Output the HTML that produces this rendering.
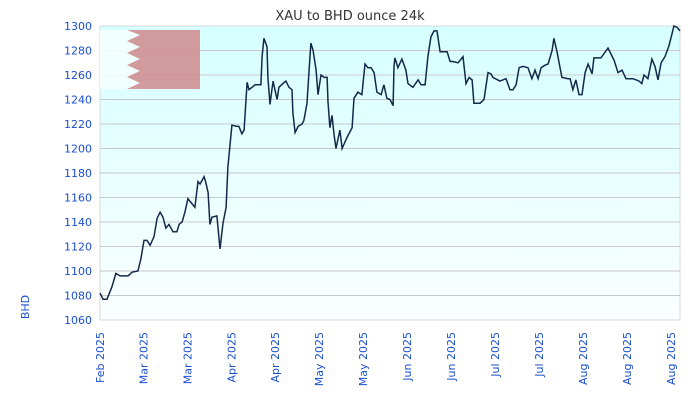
<!DOCTYPE html>
<html><head><meta charset="utf-8"><style>
body{margin:0;background:#fff;width:700px;height:400px;overflow:hidden}
svg{display:block;font-family:"DejaVu Sans","Liberation Sans",sans-serif}
</style></head><body>
<svg id="chart" width="700" height="400">
<defs><linearGradient id="bg" x1="0" y1="0" x2="0" y2="1"><stop offset="0" stop-color="#d6ffff"/><stop offset="1" stop-color="#fbffff"/></linearGradient></defs>
<text x="350" y="20" text-anchor="middle" font-size="13" fill="#333">XAU to BHD ounce 24k</text>
<rect x="100" y="26" width="580" height="294" fill="url(#bg)" stroke="#d8d8d8"/>
<g id="grid"></g>
<g opacity="0.85">
<rect x="100" y="30" width="100" height="59" fill="#f6ffff"/>
<polygon points="127,30 200,30 200,89 127,89 140,83 127,77 140,71 127,65 140,59 127,53 140,47 127,41 140,35" fill="#d08a8c"/>
</g>
<g id="yticks"></g><g id="xticks"></g>
<text transform="translate(29,307) rotate(-90)" text-anchor="middle" font-size="11" fill="#1a4fd0">BHD</text>
<path id="line" fill="none" stroke="#14284a" stroke-width="1.5"/>
</svg>
<script>
const days=[0,1,2.3,3.9,5.2,6.6,9.2,10.5,12.4,13.4,14.4,15.4,16.4,17.7,18.7,19.7,20.6,21.6,22.6,23.9,25.2,25.9,26.9,27.8,28.8,30.1,31.1,32.1,32.8,34.1,34.7,35.4,36,36.7,38.3,39.3,40.3,41.3,41.9,43.2,44.9,45.5,46.5,47.2,48.2,48.8,49.8,50.8,52.7,53.1,53.7,54.7,55,55.7,56.3,56.7,57.3,58,58.6,59.9,60.9,61.9,62.9,63.2,63.9,64.9,66.2,66.8,67.8,68.5,69.1,69.8,70.8,71.4,72.4,73.4,74.4,74.7,75.3,76,76.7,77.3,78.6,79.3,80.9,82.6,83.2,84.5,85.8,86.8,87.8,88.8,89.8,90.7,92.1,93,94,95,96,96.3,96.6,97.6,98.9,100.2,100.9,102.5,104.2,105.2,106.5,107.4,108.4,109.4,110.4,111.4,113.7,114.7,115.6,117.3,118.9,119.9,120.9,121.9,122.5,124.5,125.8,127.1,128.1,128.7,131,133,134.3,135.3,136.3,137.3,138.6,140.2,141.5,142.5,143.5,144.5,145.8,146.8,148.1,148.7,149.7,151.3,153.3,154,154.9,155.9,156.9,157.9,158.9,159.9,161.2,161.8,164.1,166.4,168.4,169.7,171,172.3,174.6,176.6,177.5,178.2,179.5,180.8,181.8,182.8,183.8,185.1,186.4,187.4,188,189,190];
const prices=[1082,1077,1077,1087,1098,1096,1096,1099,1100,1110,1125,1125,1121,1128,1143,1148,1144,1135,1138,1132,1132,1138,1140,1148,1159,1155,1152,1173,1171,1177,1172,1164,1138,1144,1145,1118,1139,1152,1185,1219,1218,1218,1212,1215,1254,1248,1250,1252,1252,1275,1290,1283,1258,1236,1248,1255,1248,1240,1250,1253,1255,1250,1248,1229,1213,1218,1220,1223,1237,1264,1286,1280,1264,1244,1260,1258,1258,1238,1217,1227,1211,1200,1215,1200,1209,1217,1241,1246,1244,1269,1266,1266,1262,1246,1244,1252,1241,1240,1235,1267,1274,1266,1273,1264,1253,1250,1256,1252,1252,1275,1291,1296,1296,1279,1279,1271,1271,1270,1275,1253,1258,1256,1237,1237,1240,1262,1261,1258,1255,1257,1248,1248,1252,1266,1267,1266,1257,1264,1257,1266,1268,1269,1280,1290,1279,1258,1257,1257,1248,1256,1244,1244,1262,1269,1261,1274,1274,1282,1272,1262,1264,1257,1257,1255,1253,1260,1257,1273,1267,1256,1270,1275,1284,1294,1300,1299,1296];
const yTicks=[1060,1080,1100,1120,1140,1160,1180,1200,1220,1240,1260,1280,1300];
const xTickDays=[0,14.2,28.6,43,57.4,71.8,86.2,100.6,115,129.4,143.8,158.2,172.6,187];
const xTickLabels=["Feb 2025","Mar 2025","Mar 2025","Apr 2025","Apr 2025","May 2025","May 2025","Jun 2025","Jun 2025","Jul 2025","Jul 2025","Aug 2025","Aug 2025","Aug 2025"];
const NS="http://www.w3.org/2000/svg";
const X=d=>100+d*580/190, Y=v=>320-(v-1060)*294/240;
const grid=document.getElementById('grid'),yt=document.getElementById('yticks'),xt=document.getElementById('xticks');
yTicks.forEach(v=>{
 if(v>1060&&v<1300){const l=document.createElementNS(NS,'line');
 l.setAttribute('x1',100);l.setAttribute('x2',680);l.setAttribute('y1',Y(v));l.setAttribute('y2',Y(v));l.setAttribute('stroke','#c8c8c8');
 
 
 grid.appendChild(l);}
 const t=document.createElementNS(NS,'text');
 t.setAttribute('x',92);t.setAttribute('y',Y(v)+4);t.setAttribute('text-anchor','end');t.setAttribute('font-size','11');t.setAttribute('fill','#1a4fd0');t.textContent=v;
 
 
 yt.appendChild(t);
});
xTickDays.forEach((d,i)=>{
 const t=document.createElementNS(NS,'text');
 const x=X(d)+4;
 t.setAttribute('transform','translate('+x+',332) rotate(-90)');t.setAttribute('text-anchor','end');t.setAttribute('font-size','11');t.setAttribute('fill','#1a4fd0');t.textContent=xTickLabels[i];
 
 
 xt.appendChild(t);
});
document.getElementById('line').setAttribute('d',days.map((d,i)=>(i?'L':'M')+X(d).toFixed(1)+','+Y(prices[i]).toFixed(1)).join(''));
</script>
</body></html>
